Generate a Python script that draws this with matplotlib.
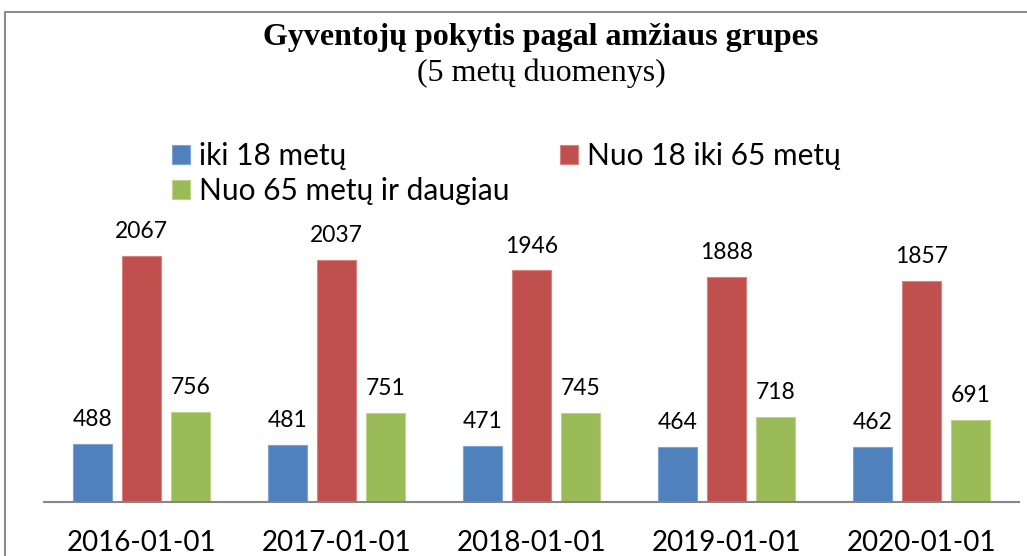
import matplotlib.pyplot as plt
import numpy as np
from matplotlib.patches import Rectangle

# data
dates = ['2016-01-01', '2017-01-01', '2018-01-01', '2019-01-01', '2020-01-01']
iki18 = [488, 481, 471, 464, 462]
nuo18iki65 = [2067, 2037, 1946, 1888, 1857]
nuo65 = [756, 751, 745, 718, 691]

series_names = ['iki 18 metų', 'Nuo 18 iki 65 metų', 'Nuo 65 metų ir daugiau']
colors = ['#4F81BD', '#C0504D', '#9BBB59']
edges = ['#7FA3D3', '#D98280', '#BCD38A']

sans = ['Lato', 'DejaVu Sans']
serif = ['Liberation Serif', 'DejaVu Serif']

fig = plt.figure(figsize=(10.27, 5.56), dpi=100)
fig.patch.set_facecolor('white')

# chart border (cut off on right and bottom like the screenshot)
fig.patches.append(Rectangle((5 / 1027, -0.05), 1.2, 1 - 12 / 556 + 0.05,
                             transform=fig.transFigure, fill=False,
                             edgecolor='#8C8C8C', lw=1.5))

ax = fig.add_axes([44 / 1027, 54 / 556, 975 / 1027, (502 - 216) / 556])

x = np.arange(len(dates))
w = 0.2
offs = [-0.251, 0, 0.251]
handles = []
for vals, off, c, ec, name in zip([iki18, nuo18iki65, nuo65], offs, colors, edges, series_names):
    b = ax.bar(x + off, vals, w, color=c, edgecolor=ec, linewidth=0.8, label=name)
    ax.bar_label(b, padding=10, fontsize=16.5, family=sans, color='black')
    handles.append(b)

ax.set_xlim(-0.5, 4.5)
ax.set_ylim(0, 2403)
ax.set_yticks([])
for s in ['top', 'right', 'left']:
    ax.spines[s].set_visible(False)
ax.spines['bottom'].set_color('#868686')
ax.spines['bottom'].set_linewidth(1.5)
ax.set_xticks(x)
ax.set_xticklabels(dates, fontsize=20, family=sans)
ax.tick_params(axis='x', length=0, pad=20)

# legend: blue, green in first column, red in second
leg = fig.legend([handles[0], handles[2], handles[1]],
                 [series_names[0], series_names[2], series_names[1]],
                 ncol=2, loc='upper left', bbox_to_anchor=(145 / 1027, 1 - 115 / 556),
                 frameon=False, prop={'family': sans, 'size': 21.5},
                 handlelength=0.6, handleheight=0.6, handletextpad=0.3,
                 columnspacing=1.7, labelspacing=0.25)

fig.text(541 / 1027, 1 - 38 / 556, 'Gyventojų pokytis pagal amžiaus grupes',
         ha='center', va='center', fontsize=23, fontweight='bold', family=serif)
fig.text(541 / 1027, 1 - 73 / 556, '(5 metų duomenys)',
         ha='center', va='center', fontsize=23, family=serif)

fig.savefig('out.png', dpi=100)
